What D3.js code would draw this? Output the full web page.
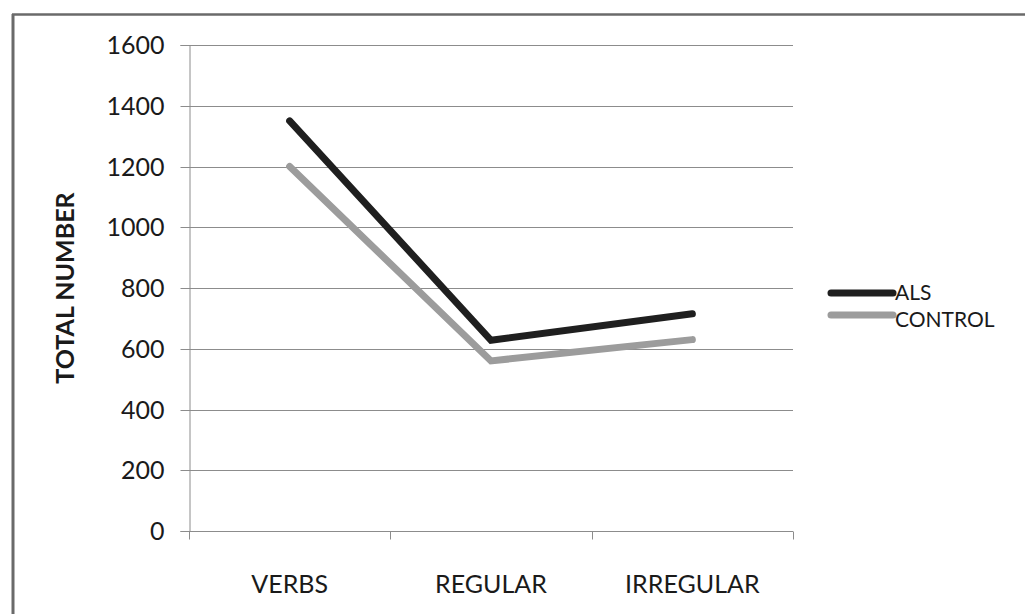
<!DOCTYPE html>
<html>
<head>
<meta charset="utf-8">
<script src="https://cdn.jsdelivr.net/npm/d3@7"></script>
<style>
  html, body { margin: 0; padding: 0; background: #fff; }
  svg { display: block; }
  text { font-family: Lato, "Open Sans", sans-serif; fill: #1a1a1a; }
</style>
</head>
<body>
<svg id="chart" width="1025" height="614"></svg>
<script>
const categories = ["VERBS", "REGULAR", "IRREGULAR"];
const seriesNames = ["ALS", "CONTROL"];
const alsValues = [1350, 628, 715];
const controlValues = [1200, 560, 630];
const yTicks = [0, 200, 400, 600, 800, 1000, 1200, 1400, 1600];
const yTitle = "TOTAL NUMBER";
const colors = ["#1f1f1f", "#9c9c9c"];

const svg = d3.select("#chart");
const plot = { left: 189, right: 793, top: 45, bottom: 531 };

// outer frame (top and left edges visible)
svg.append("line").attr("x1", 12).attr("x2", 1025).attr("y1", 14.5).attr("y2", 14.5)
  .attr("stroke", "#6a6a6a").attr("stroke-width", 2.5);
svg.append("line").attr("x1", 13).attr("x2", 13).attr("y1", 14).attr("y2", 614)
  .attr("stroke", "#6a6a6a").attr("stroke-width", 3);

const x = d3.scaleBand().domain(categories).range([plot.left, plot.right]).padding(0);
const y = d3.scaleLinear().domain([0, 1600]).range([plot.bottom, plot.top]);

// gridlines
svg.append("g").selectAll("line").data(yTicks.filter(d => d > 0)).join("line")
  .attr("x1", plot.left).attr("x2", plot.right)
  .attr("y1", d => Math.round(y(d)) + 0.5).attr("y2", d => Math.round(y(d)) + 0.5)
  .attr("stroke", "#8c8c8c").attr("stroke-width", 1);

// y axis
const yAxis = d3.axisLeft(y).tickValues(yTicks).tickSize(9).tickPadding(16).tickFormat(d3.format("d"));
const gy = svg.append("g").attr("transform", `translate(${plot.left + 0.5},0)`).call(yAxis);
gy.select(".domain").attr("stroke", "#8c8c8c");
gy.selectAll(".tick line").attr("stroke", "#8c8c8c");
gy.selectAll(".tick text").attr("font-size", 25).attr("fill", "#1a1a1a")
  .style("font-family", "Lato, sans-serif");
gy.selectAll(".tick").attr("transform", d => `translate(0,${Math.round(y(d)) + 0.5})`);

// x axis
const xAxis = d3.axisBottom(x).tickSize(0).tickPadding(44);
const gx = svg.append("g").attr("transform", `translate(0,${plot.bottom + 0.5})`).call(xAxis);
gx.select(".domain").attr("stroke", "#8c8c8c").attr("d", `M${plot.left},0H${plot.right}`);
gx.selectAll(".tick text").attr("font-size", 25).attr("fill", "#1a1a1a")
  .style("font-family", "Lato, sans-serif");
// category boundary ticks
const bounds = categories.map(c => x(c)).concat([x(categories[categories.length - 1]) + x.bandwidth()]);
gx.append("g").selectAll("line").data(bounds).join("line")
  .attr("x1", d => Math.round(d) + 0.5).attr("x2", d => Math.round(d) + 0.5)
  .attr("y1", 0).attr("y2", 8).attr("stroke", "#8c8c8c");

// y title
svg.append("text")
  .attr("transform", `translate(74,${(plot.top + plot.bottom) / 2}) rotate(-90)`)
  .attr("text-anchor", "middle").attr("font-size", 25).attr("font-weight", "bold")
  .text(yTitle);

// lines
const allSeries = [alsValues, controlValues];
const line = d3.line().x((d, i) => x(categories[i]) + x.bandwidth() / 2).y(d => y(d));
// draw CONTROL first, then ALS on top
[1, 0].forEach(si => {
  svg.append("path").datum(allSeries[si]).attr("d", line)
    .attr("fill", "none").attr("stroke", colors[si]).attr("stroke-width", 7)
    .attr("stroke-linecap", "round").attr("stroke-linejoin", "miter");
});

// legend
const legendY = [293, 315];
const legendBase = [300, 327];
seriesNames.forEach((name, i) => {
  svg.append("line").attr("x1", 831).attr("x2", 893)
    .attr("y1", legendY[i]).attr("y2", legendY[i])
    .attr("stroke", colors[i]).attr("stroke-width", 7).attr("stroke-linecap", "round");
  svg.append("text").attr("x", 895).attr("y", legendBase[i])
    .attr("font-size", 21).text(name);
});
</script>
</body>
</html>
